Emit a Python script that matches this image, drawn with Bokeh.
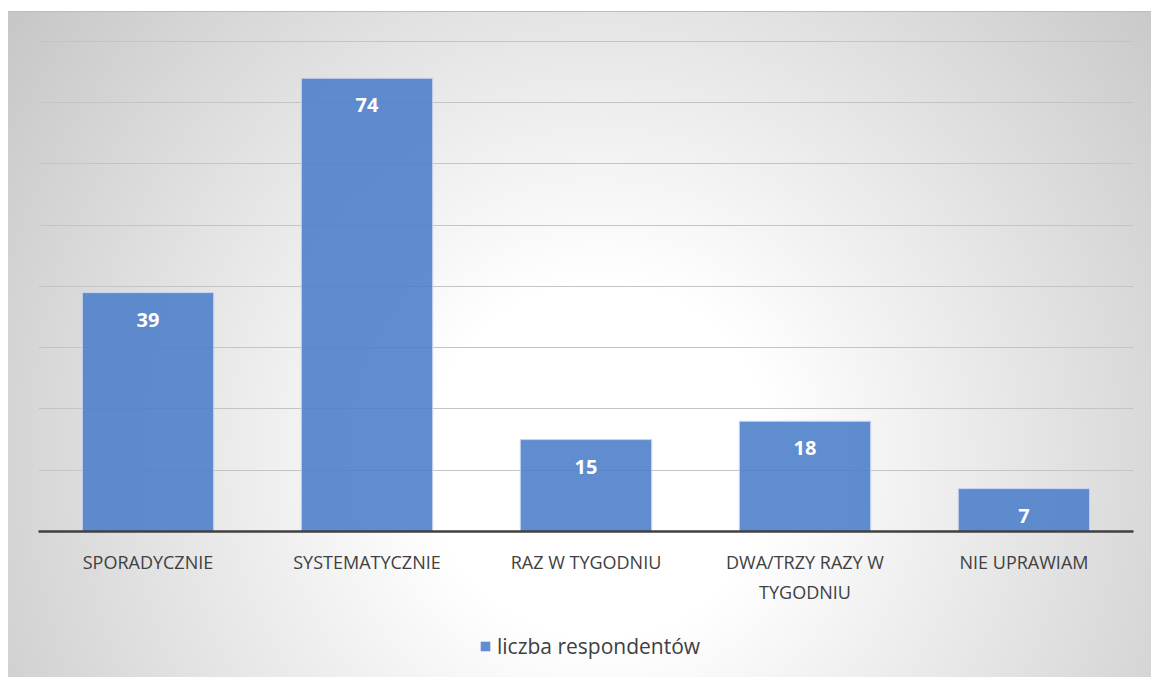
from bokeh.plotting import figure
from bokeh.layouts import column
from bokeh.models import ColumnDataSource, Range1d, SingleIntervalTicker, Legend, LegendItem, LabelSet
from bokeh.core.properties import value
from bokeh.embed import file_html
from bokeh.resources import INLINE

categories = ["SPORADYCZNIE", "SYSTEMATYCZNIE", "RAZ W TYGODNIU", "DWA/TRZY RAZY W\nTYGODNIU", "NIE UPRAWIAM"]
values = [39, 74, 15, 18, 7]
series_name = "liczba respondentów"

BAR = "#4f7fcb"
TXT = "#404040"

source = ColumnDataSource(data=dict(cat=categories, val=values, lab=[str(v) for v in values]))

p = figure(x_range=categories, y_range=Range1d(0, 80.16), width=1151, height=620,
           output_backend="svg", toolbar_location=None,
           min_border_left=38, min_border_right=18, min_border_top=40, min_border_bottom=89)
p.background_fill_color = None
p.border_fill_color = None
p.outline_line_color = None

bars = p.vbar(x="cat", top="val", width=0.6, source=source,
              fill_color=BAR, fill_alpha=0.9,
              line_color="#c9d6ee", line_width=1)

labels = LabelSet(x="cat", y="val", text="lab", source=source, y_offset=-27,
                  text_align="center", text_baseline="middle",
                  text_color="white", text_font=value("Open Sans"), text_font_style="bold",
                  text_font_size="20px")
p.add_layout(labels)

p.yaxis.visible = False
p.ygrid.ticker = SingleIntervalTicker(interval=10)
p.ygrid.grid_line_color = "#c4c4c4"
p.ygrid.grid_line_width = 1
p.xgrid.visible = False

ax = p.xaxis[0]
ax.axis_line_color = TXT
ax.axis_line_width = 2.5
ax.major_tick_line_color = None
ax.minor_tick_line_color = None
ax.major_label_standoff = 12
ax.major_label_text_font = "Open Sans"
ax.major_label_text_font_size = "18px"
ax.major_label_text_color = TXT
ax.major_label_text_line_height = 1.25

# legend strip below the chart
leg = figure(x_range=Range1d(0, 1), y_range=Range1d(0, 1), width=1151, height=57,
             output_backend="svg", toolbar_location=None,
             x_axis_location=None, y_axis_location=None,
             min_border_left=0, min_border_right=0, min_border_top=0, min_border_bottom=0)
leg.background_fill_color = None
leg.border_fill_color = None
leg.outline_line_color = None
leg.xgrid.visible = False
leg.ygrid.visible = False
leg_src = ColumnDataSource(data=dict(x=[0.5], top=[0.0]))
dummy = leg.vbar(x="x", top="top", width=0.0, source=leg_src,
                 fill_color=BAR, fill_alpha=0.9, line_color=None)

legend = Legend(items=[LegendItem(label=series_name, renderers=[dummy])],
                orientation="horizontal", location=(441, 17),
                background_fill_alpha=0, border_line_color=None,
                label_text_font="Open Sans", label_text_font_size="21px",
                label_text_color=TXT, glyph_width=12, glyph_height=12,
                label_standoff=6, padding=2, margin=0)
leg.add_layout(legend)

layout = column(p, leg, spacing=0)
layout.styles = {
    "background": (
        "linear-gradient(#ffffff,#ffffff) 0 0 / 100% 11px no-repeat, "
        "linear-gradient(#ffffff,#ffffff) 0 0 / 8px 100% no-repeat, "
        "linear-gradient(#bdbdbd,#bdbdbd) 8px 11px / 100% 1px no-repeat, "
        "radial-gradient(ellipse 780px 800px at 600px 460px, #ffffff 0%, #ffffff 22%, #c5c5c5 96%)"
    )
}

open("out.html", "w").write(file_html(layout, INLINE))
